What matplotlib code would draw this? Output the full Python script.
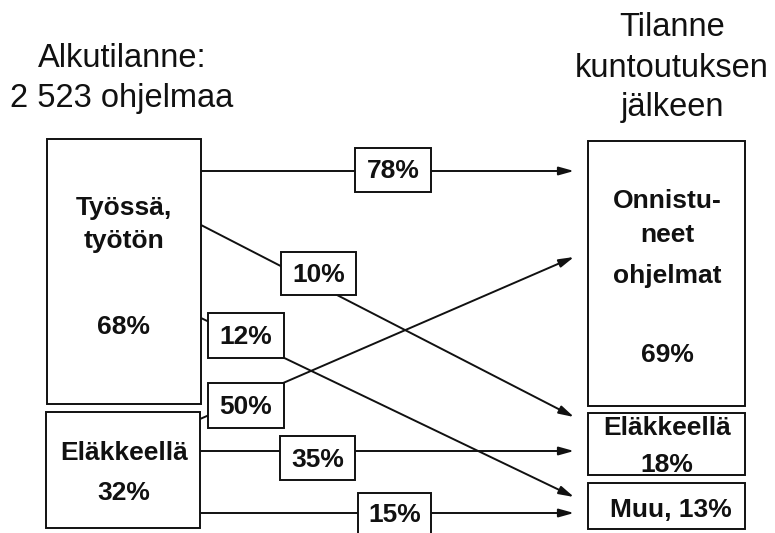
import matplotlib.pyplot as plt
import matplotlib.patches as patches

plt.rcParams['font.family'] = ['Liberation Sans', 'DejaVu Sans']

# --------------------
# Data
# --------------------
left_title = ["Alkutilanne:", "2 523 ohjelmaa"]
right_title = ["Tilanne", "kuntoutuksen", "jälkeen"]

start_labels = [["Työssä,", "työtön"], ["Eläkkeellä"]]
start_shares = [68, 32]

end_labels = [["Onnistu-", "neet", "ohjelmat"], ["Eläkkeellä"], ["Muu,"]]
end_shares = [69, 18, 13]

# flows: (from start node, to end node, percent)
flow_from = [0, 0, 0, 1, 1, 1]
flow_to = [0, 1, 2, 0, 1, 2]
flow_pct = [78, 10, 12, 50, 35, 15]

# --------------------
# Layout (pixel coords, y down)
# --------------------
left_boxes = [(47, 139, 201, 404), (46, 412, 200, 528)]
right_boxes = [(588, 141, 745, 406), (588, 413, 745, 475), (588, 483, 745, 529)]

# arrow start / end points, label box (x0, y0, x1, y1)
arrow_start = [(201, 171), (201, 225), (201, 318), (200, 419), (201, 451), (201, 513)]
arrow_end = [(574, 171), (574, 417), (574, 497), (574, 257), (574, 451), (574, 513)]
label_boxes = [(355, 148, 431, 192), (281, 252, 356, 295), (208, 313, 284, 358),
               (208, 383, 284, 428), (280, 436, 355, 480), (358, 493, 431, 549)]
label_base = [178, 282, 344, 414, 467, 522]

# text baselines
left_title_y = [67, 107]
right_title_y = [36, 77, 116]
start_label_y = [[215, 248], [460]]
start_share_y = [334, 500]
end_label_y = [[208, 242, 283], [435], [517]]
end_share_y = [362, 472, 517]

ink = "#111111"
lw = 1.4
fs_title = 23.5
fs_bold = 19

fig = plt.figure(figsize=(7.75, 5.33), dpi=100)
ax = fig.add_axes([0, 0, 1, 1])
ax.set_xlim(0, 775)
ax.set_ylim(533, 0)
ax.axis("off")


def rect(box, z=2):
    x0, y0, x1, y1 = box
    ax.add_patch(patches.Rectangle((x0, y0), x1 - x0, y1 - y0,
                                   facecolor="white", edgecolor=ink,
                                   linewidth=lw, zorder=z, clip_on=True))


def bold(x, y, s):
    ax.text(x, y, s, ha="center", va="baseline", fontsize=fs_bold,
            fontweight="bold", color=ink, zorder=4)


# titles
for s, y in zip(left_title, left_title_y):
    ax.text(122, y, s, ha="center", va="baseline", fontsize=fs_title, color=ink)
for s, y in zip(right_title, right_title_y):
    ax.text(672, y, s, ha="center", va="baseline", fontsize=fs_title, color=ink)

# arrows
for s, e in zip(arrow_start, arrow_end):
    ax.annotate("", xy=e, xytext=s,
                arrowprops=dict(arrowstyle="-|>,head_length=0.9,head_width=0.25",
                                color=ink, lw=lw, shrinkA=0, shrinkB=0),
                zorder=1)

# flow label boxes
for box, pct, yb in zip(label_boxes, flow_pct, label_base):
    rect(box, z=3)
    bold((box[0] + box[2]) / 2, yb, f"{pct}%")

# start boxes
for box in left_boxes:
    rect(box)
for lines, ys, share, ysh in zip(start_labels, start_label_y, start_shares, start_share_y):
    for s, y in zip(lines, ys):
        bold(124, y, s)
    bold(124, ysh, f"{share}%")

# end boxes
for box in right_boxes:
    rect(box)
for i, (lines, ys, share, ysh) in enumerate(zip(end_labels, end_label_y, end_shares, end_share_y)):
    if i == 2:
        bold(671, ysh, f"{lines[0]} {share}%")
        continue
    for s, y in zip(lines, ys):
        bold(667, y, s)
    bold(667, ysh, f"{share}%")

plt.savefig("out.png", dpi=100)
plt.close()
